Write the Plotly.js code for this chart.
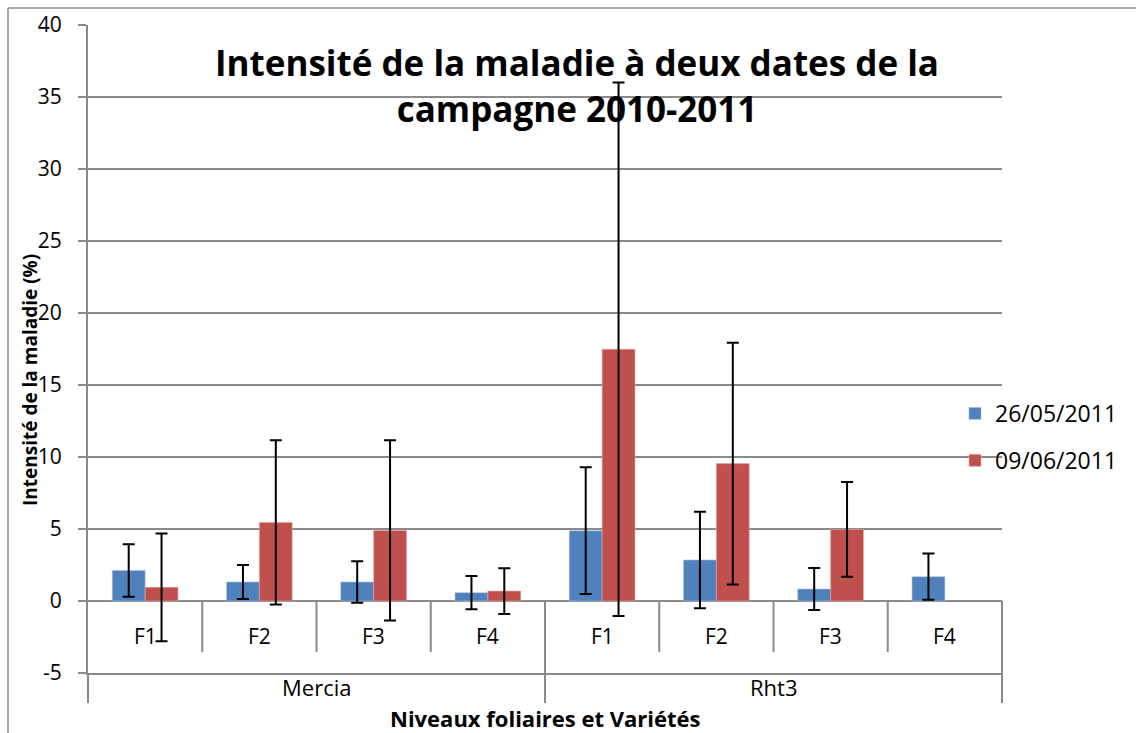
<!DOCTYPE html>
<html>
<head>
<meta charset="utf-8">
<script src="https://cdn.plot.ly/plotly-3.0.1.min.js"></script>
<style>html,body{margin:0;padding:0;background:#fff;}#chart{width:1136px;height:733px;}</style>
</head>
<body>
<div id="chart"></div>
<script>
// ---- data ----
var varieties = ['Mercia', 'Rht3'];
var leafLevels = ['F1', 'F2', 'F3', 'F4'];
var seriesNames = ['26/05/2011', '09/06/2011'];
var values0526 = [2.12, 1.32, 1.32, 0.58, 4.88, 2.85, 0.83, 1.69];
var errors0526 = [1.82, 1.18, 1.44, 1.15, 4.40, 3.35, 1.46, 1.60];
var values0906 = [0.95, 5.46, 4.90, 0.69, 17.48, 9.54, 4.97, null];
var errors0906 = [3.74, 5.70, 6.26, 1.59, 18.52, 8.39, 3.29, null];
var yTicks = [-5, 0, 5, 10, 15, 20, 25, 30, 35, 40];

var FONT = '"Open Sans", "DejaVu Sans", sans-serif';
var GRID = '#8a8a8a';
var yMin = -5, yMax = 40;

var xIdx = [];
var catLabels = [];
varieties.forEach(function (v, vi) {
  leafLevels.forEach(function (l, li) {
    xIdx.push(vi * leafLevels.length + li);
    catLabels.push(l);
  });
});

function errBar(arr) {
  return {type: 'data', array: arr, symmetric: true, visible: true,
          color: '#000', thickness: 2, width: 6};
}

var traces = [
  {type: 'bar', name: seriesNames[0], x: xIdx, y: values0526,
   marker: {color: '#4F81BD', line: {color: '#a9c0de', width: 0.6}},
   error_y: errBar(errors0526), legendgroup: 'a'},
  {type: 'bar', name: seriesNames[1], x: xIdx, y: values0906,
   marker: {color: '#C0504D', line: {color: '#e0a8a6', width: 0.6}},
   error_y: errBar(errors0906), legendgroup: 'b'}
];

var zeroFrac = (0 - yMin) / (yMax - yMin);
var shapes = [];
// separators between leaf levels (from axis at 0 down to label row)
for (var k = 1; k < xIdx.length; k++) {
  if (k % leafLevels.length === 0) continue;
  shapes.push({type: 'line', xref: 'x', yref: 'y', x0: k - 0.5, x1: k - 0.5,
               y0: 0, y1: -3.55, line: {color: GRID, width: 2}});
}
// variety separators (full depth)
var bottomExt = -30 / 648;
for (var v = 1; v < varieties.length; v++) {
  var xs = v * leafLevels.length - 0.5;
  shapes.push({type: 'line', xref: 'x', yref: 'paper', x0: xs, x1: xs,
               y0: zeroFrac, y1: bottomExt, line: {color: GRID, width: 2}});
}
shapes.push({type: 'line', xref: 'paper', yref: 'paper', x0: 1, x1: 1,
             y0: zeroFrac, y1: bottomExt, line: {color: GRID, width: 2}});
shapes.push({type: 'line', xref: 'paper', yref: 'paper', x0: 0, x1: 0,
             y0: 0, y1: bottomExt, line: {color: GRID, width: 2}});
// chart outer border (top and left)
shapes.push({type: 'line', xref: 'paper', yref: 'paper', x0: -80 / 914, x1: 1.2,
             y0: 1 + 17 / 648, y1: 1 + 17 / 648, line: {color: '#8c8c8c', width: 1.5}});
shapes.push({type: 'line', xref: 'paper', yref: 'paper', x0: -80 / 914, x1: -80 / 914,
             y0: 1 + 17 / 648, y1: -0.2, line: {color: '#8c8c8c', width: 1.5}});

var annotations = [];
xIdx.forEach(function (x, i) {
  annotations.push({x: x, y: -2.45, xref: 'x', yref: 'y', text: catLabels[i],
                    showarrow: false, font: {family: FONT, size: 21, color: '#000'},
                    xanchor: 'center', yanchor: 'middle'});
});
varieties.forEach(function (v, vi) {
  annotations.push({x: vi * leafLevels.length + (leafLevels.length - 1) / 2,
                    y: -14 / 648, xref: 'x', yref: 'paper', text: v, showarrow: false,
                    font: {family: FONT, size: 22, color: '#000'},
                    xanchor: 'center', yanchor: 'middle'});
});
annotations.push({x: 0.5, y: -45 / 648, xref: 'paper', yref: 'paper',
                  text: '<b>Niveaux foliaires et Variétés</b>', showarrow: false,
                  font: {family: FONT, size: 22, color: '#000'},
                  xanchor: 'center', yanchor: 'middle'});
annotations.push({x: -58 / 914, y: (673 - 380) / 648, xref: 'paper', yref: 'paper',
                  text: '<b>Intensité de la maladie (%)</b>', showarrow: false, textangle: -90,
                  font: {family: FONT, size: 19, color: '#000'},
                  xanchor: 'center', yanchor: 'middle'});

var layout = {
  width: 1136, height: 733,
  margin: {l: 88, r: 134, t: 25, b: 60, pad: 0},
  paper_bgcolor: '#fff', plot_bgcolor: '#fff',
  font: {family: FONT, color: '#000'},
  title: {text: '<b>Intensité de la maladie à deux dates de la<br>campagne 2010-2011</b>',
          x: 577 / 1136, xanchor: 'center', xref: 'container',
          y: 1 - 76 / 733, yanchor: 'middle', yref: 'container',
          font: {family: FONT, size: 35, color: '#000'}},
  barmode: 'group', bargap: 0.425, bargroupgap: 0,
  showlegend: true,
  legend: {x: (955 - 88) / 914, xanchor: 'left', y: (673 - 392) / 648, yanchor: 'top',
           font: {family: FONT, size: 23, color: '#000'}, traceorder: 'grouped',
           tracegroupgap: 14, bgcolor: 'rgba(0,0,0,0)', itemclick: false},
  xaxis: {range: [-0.5, 7.5], showticklabels: false, ticks: '', showgrid: false,
          zeroline: false, showline: true, linecolor: GRID, linewidth: 2, fixedrange: true},
  yaxis: {range: [yMin, yMax], tickvals: yTicks, ticktext: yTicks.map(String),
          ticks: 'outside', ticklen: 8, tickwidth: 2, tickcolor: GRID,
          ticklabelstandoff: 12,
          showgrid: true, gridcolor: GRID, gridwidth: 2,
          zeroline: true, zerolinecolor: GRID, zerolinewidth: 2,
          showline: true, linecolor: GRID, linewidth: 2,
          tickfont: {family: FONT, size: 21, color: '#000'}, fixedrange: true},
  shapes: shapes,
  annotations: annotations
};

Plotly.newPlot('chart', traces, layout, {displayModeBar: false, staticPlot: true});
</script>
</body>
</html>
